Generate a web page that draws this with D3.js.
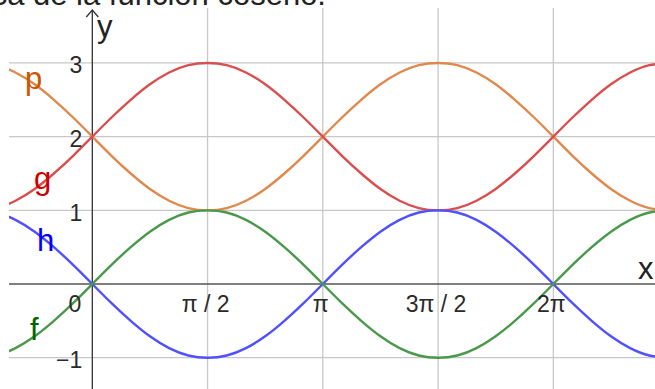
<!doctype html>
<html>
<head>
<meta charset="utf-8">
<style>
  body { margin: 0; background: #fff; }
  svg { display: block; font-family: "Liberation Sans", Arial, sans-serif; }
</style>
<script src="https://d3js.org/d3.v7.min.js"></script>
</head>
<body>
<svg width="655" height="389"></svg>
<script>
// sample positions in degrees (x = deg * pi / 180)
var xDeg = [-90, -75, -60, -45, -30, -15, 0, 15, 30, 45, 60, 75, 90, 105, 120, 135, 150, 165, 180,
            195, 210, 225, 240, 255, 270, 285, 300, 315, 330, 345, 360, 375, 390, 405, 420, 435, 450];

// values
var fVals = [-1, -0.97, -0.87, -0.71, -0.5, -0.26, 0, 0.26, 0.5, 0.71, 0.87, 0.97, 1, 0.97, 0.87, 0.71, 0.5, 0.26, 0,
             -0.26, -0.5, -0.71, -0.87, -0.97, -1, -0.97, -0.87, -0.71, -0.5, -0.26, 0, 0.26, 0.5, 0.71, 0.87, 0.97, 1];
var hVals = [1, 0.97, 0.87, 0.71, 0.5, 0.26, 0, -0.26, -0.5, -0.71, -0.87, -0.97, -1, -0.97, -0.87, -0.71, -0.5, -0.26, 0,
             0.26, 0.5, 0.71, 0.87, 0.97, 1, 0.97, 0.87, 0.71, 0.5, 0.26, 0, -0.26, -0.5, -0.71, -0.87, -0.97, -1];
var gVals = [1, 1.03, 1.13, 1.29, 1.5, 1.74, 2, 2.26, 2.5, 2.71, 2.87, 2.97, 3, 2.97, 2.87, 2.71, 2.5, 2.26, 2,
             1.74, 1.5, 1.29, 1.13, 1.03, 1, 1.03, 1.13, 1.29, 1.5, 1.74, 2, 2.26, 2.5, 2.71, 2.87, 2.97, 3];
var pVals = [3, 2.97, 2.87, 2.71, 2.5, 2.26, 2, 1.74, 1.5, 1.29, 1.13, 1.03, 1, 1.03, 1.13, 1.29, 1.5, 1.74, 2,
             2.26, 2.5, 2.71, 2.87, 2.97, 3, 2.97, 2.87, 2.71, 2.5, 2.26, 2, 1.74, 1.5, 1.29, 1.13, 1.03, 1];

var xTicks = [90, 180, 270, 360];
var xTickLabels = ["π / 2", "π", "3π / 2", "2π"];
var yTicks = [3, 2, 1, -1];
var yTickLabels = ["3", "2", "1", "−1"];

var svg = d3.select("svg");

var x = d3.scaleLinear().domain([-65.05, 439.4]).range([9, 655]);
var y = d3.scaleLinear().domain([3.746, -1.425]).range([8, 389]);

svg.append("text")
   .attr("x", 326).attr("y", 5)
   .attr("text-anchor", "end")
   .attr("font-size", "31px")
   .attr("fill", "#222")
   .text("Gráfica de la función coseno.");

svg.append("clipPath").attr("id", "view")
   .append("rect").attr("x", 9).attr("y", 8).attr("width", 646).attr("height", 381);

var g = svg.append("g").attr("clip-path", "url(#view)");

// grid
g.selectAll(".vgrid").data(xTicks).enter().append("line")
 .attr("x1", function(d) { return x(d); }).attr("x2", function(d) { return x(d); })
 .attr("y1", 8).attr("y2", 389)
 .attr("stroke", "#c8c8cc").attr("stroke-width", 1.3);
g.selectAll(".hgrid").data(yTicks).enter().append("line")
 .attr("x1", 9).attr("x2", 655)
 .attr("y1", function(d) { return y(d); }).attr("y2", function(d) { return y(d); })
 .attr("stroke", "#c8c8cc").attr("stroke-width", 1.3);

// axes
g.append("line").attr("x1", 9).attr("x2", 655).attr("y1", y(0)).attr("y2", y(0))
 .attr("stroke", "#555").attr("stroke-width", 1.3);
g.append("line").attr("x1", x(0)).attr("x2", x(0)).attr("y1", 10).attr("y2", 389)
 .attr("stroke", "#333").attr("stroke-width", 1.3);
g.append("path")
 .attr("d", "M" + (x(0) - 6) + ",17 L" + x(0) + ",10 L" + (x(0) + 6) + ",17")
 .attr("fill", "none").attr("stroke", "#333").attr("stroke-width", 1.3);

// curves
var series = [
  { vals: pVals, color: "#e0894d" },
  { vals: gVals, color: "#d94f4f" },
  { vals: hVals, color: "#5050ff" },
  { vals: fVals, color: "#4a994a" }
];
var line = d3.line()
  .x(function(d, i) { return x(xDeg[i]); })
  .y(function(d) { return y(d); })
  .curve(d3.curveNatural);

series.forEach(function(s) {
  g.append("path").datum(s.vals)
   .attr("d", line)
   .attr("fill", "none")
   .attr("stroke", s.color)
   .attr("stroke-width", 2.4);
});

// tick labels
svg.selectAll(".xlab").data(xTicks).enter().append("text")
   .attr("x", function(d) { return x(d) - 2; })
   .attr("y", y(0) + 28)
   .attr("text-anchor", "middle")
   .attr("font-size", "23px")
   .attr("fill", "#2a2a2a")
   .text(function(d, i) { return xTickLabels[i]; });
svg.append("text")
   .attr("x", x(0) - 11).attr("y", y(0) + 28)
   .attr("text-anchor", "end").attr("font-size", "23px").attr("fill", "#2a2a2a")
   .text("0");
svg.selectAll(".ylab").data(yTicks).enter().append("text")
   .attr("x", x(0) - 10)
   .attr("y", function(d) { return y(d) + 10.5; })
   .attr("text-anchor", "end")
   .attr("font-size", "23px")
   .attr("fill", "#2a2a2a")
   .text(function(d, i) { return yTickLabels[i]; });

// axis names
svg.append("text").attr("x", 97).attr("y", 37).attr("font-size", "31px").attr("fill", "#222").text("y");
svg.append("text").attr("x", 638).attr("y", 279).attr("font-size", "31px").attr("fill", "#222").text("x");

// function names
var names = [
  { t: "p", x: 25, y: 89, c: "#cc5500" },
  { t: "g", x: 34, y: 189, c: "#cc0000" },
  { t: "h", x: 37, y: 251, c: "#0000ff" },
  { t: "f", x: 30, y: 340, c: "#006600" }
];
svg.selectAll(".fname").data(names).enter().append("text")
   .attr("x", function(d) { return d.x; })
   .attr("y", function(d) { return d.y; })
   .attr("font-size", "31px")
   .attr("fill", function(d) { return d.c; })
   .text(function(d) { return d.t; });
</script>
</body>
</html>
